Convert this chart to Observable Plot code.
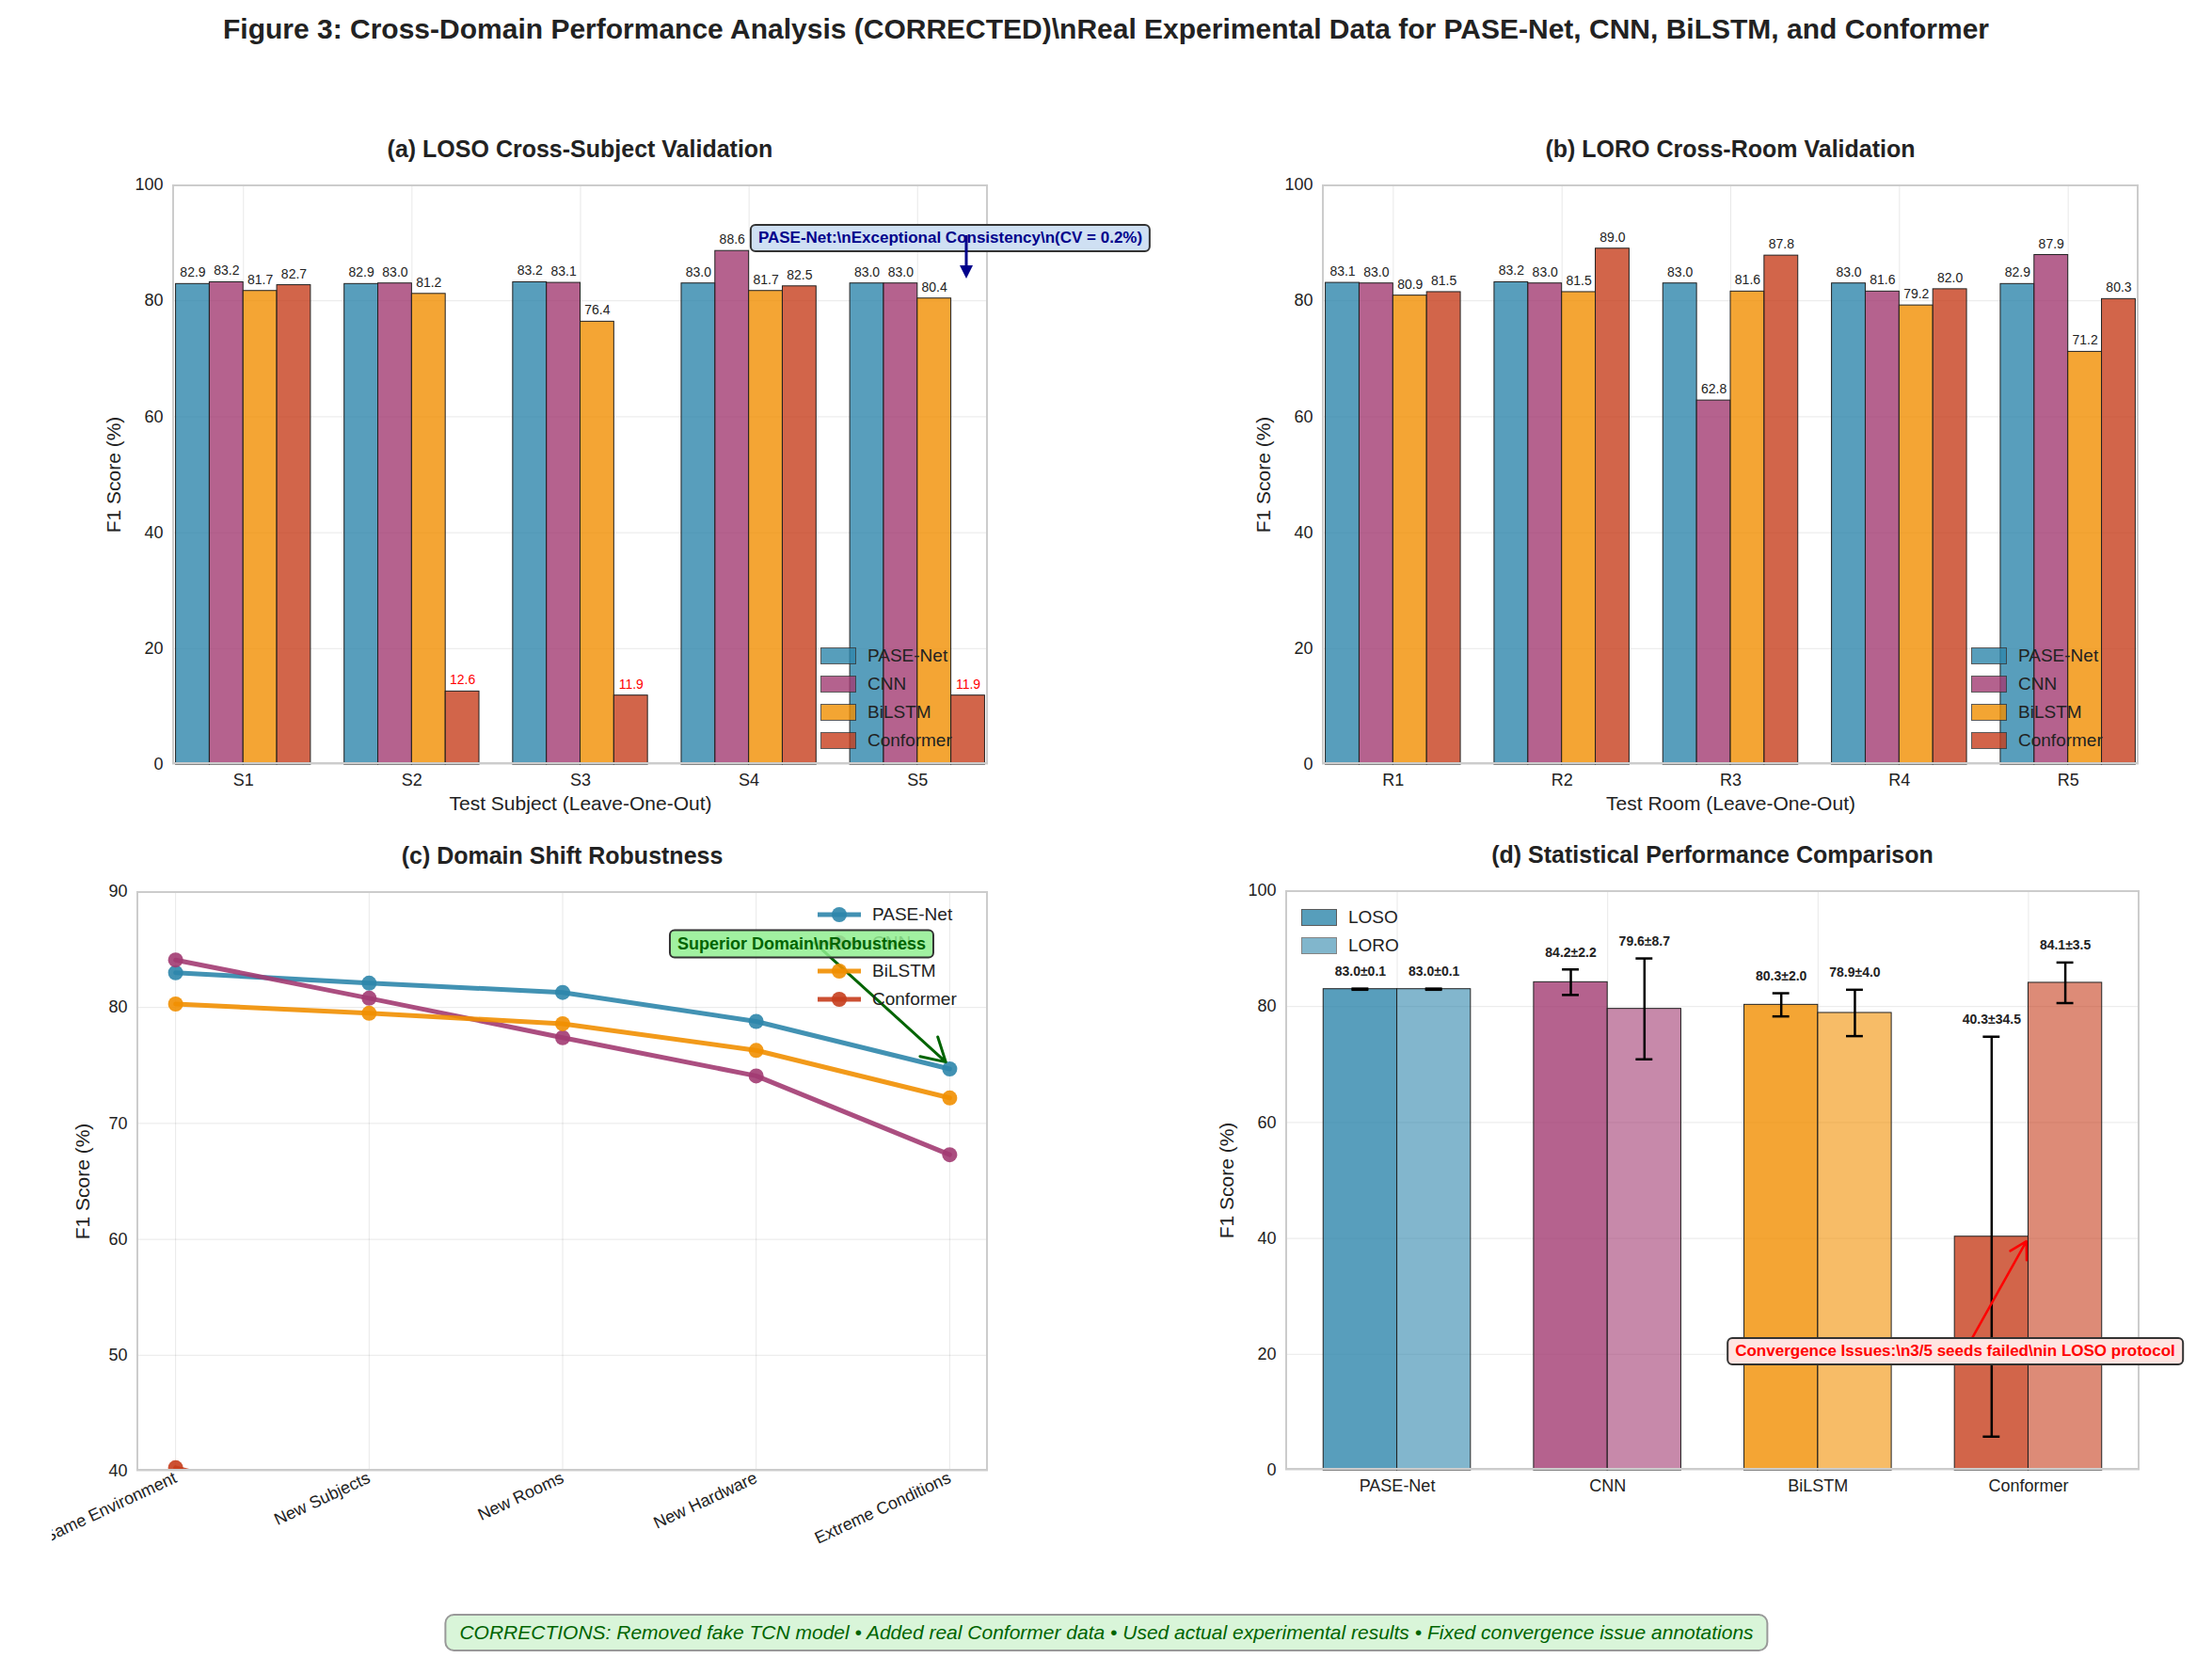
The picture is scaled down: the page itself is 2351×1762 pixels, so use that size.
<!DOCTYPE html>
<html><head><meta charset="utf-8">
<script src="https://cdn.jsdelivr.net/npm/d3@7"></script>
<script src="https://cdn.jsdelivr.net/npm/@observablehq/plot@0.6"></script>
<style>
body{margin:0;background:#fff;font-family:"Liberation Sans",Arial,sans-serif;}
#fig{position:relative;width:2351px;height:1762px;overflow:hidden;}
.abs{position:absolute;}
.title{position:absolute;font-weight:bold;font-size:25px;color:#222;text-align:center;}
.frame{position:absolute;border:2px solid #ccc;box-sizing:border-box;pointer-events:none;}
.leg{position:absolute;font-size:19px;color:#222;}
.leg div{display:flex;align-items:center;height:30px;}
.sw{width:38px;height:18px;border:1.5px solid #333;margin-right:12px;box-sizing:border-box;}
.box{position:absolute;font-weight:bold;border:2px solid #333;border-radius:6px;padding:3px 7px;white-space:nowrap;font-size:18px;transform:translate(-50%,-50%);}
g[aria-label="y-axis label"] text, g[aria-label="x-axis label"] text{font-size:21px;}
</style></head>
<body><div id="fig"></div>
<script>
const models = ["PASE-Net", "CNN", "BiLSTM", "Conformer"];
const colors = ["#2E86AB", "#A23B72", "#F18F01", "#C73E1D"];

const subjects = ["S1", "S2", "S3", "S4", "S5"];
const losoVals = [
  [82.9, 83.2, 81.7, 82.7],
  [82.9, 83.0, 81.2, 12.6],
  [83.2, 83.1, 76.4, 11.9],
  [83.0, 88.6, 81.7, 82.5],
  [83.0, 83.0, 80.4, 11.9]
];
const rooms = ["R1", "R2", "R3", "R4", "R5"];
const loroVals = [
  [83.1, 83.0, 80.9, 81.5],
  [83.2, 83.0, 81.5, 89.0],
  [83.0, 62.8, 81.6, 87.8],
  [83.0, 81.6, 79.2, 82.0],
  [82.9, 87.9, 71.2, 80.3]
];
const shifts = ["Same Environment", "New Subjects", "New Rooms", "New Hardware", "Extreme Conditions"];
const shiftVals = {
  "PASE-Net": [83.0, 82.1, 81.3, 78.8, 74.7],
  "CNN": [84.1, 80.8, 77.4, 74.1, 67.3],
  "BiLSTM": [80.3, 79.5, 78.6, 76.3, 72.2],
  "Conformer": [40.3, 36.0, 33.0, 30.0, 27.0]
};
const protocols = ["LOSO", "LORO"];
const statMean = [[83.0, 83.0], [84.2, 79.6], [80.3, 78.9], [40.3, 84.1]];
const statStd = [[0.1, 0.1], [2.2, 8.7], [2.0, 4.0], [34.5, 3.5]];

const fig = document.getElementById("fig");
function add(html, cls, style) {
  const d = document.createElement("div");
  if (cls) d.className = cls;
  d.innerHTML = html;
  Object.assign(d.style, style);
  fig.appendChild(d);
  return d;
}

function place(chart, p, mL, mT) {
  chart.style.position = "absolute";
  chart.style.left = (p.l - mL) + "px";
  chart.style.top = (p.t - mT) + "px";
  fig.appendChild(chart);
  add("", "frame", {left: p.l + "px", top: p.t + "px", width: (p.r - p.l) + "px", height: (p.b - p.t) + "px"});
  add(p.title, "title", {left: p.l + "px", width: (p.r - p.l) + "px", top: (p.t - 52) + "px"});
}

const common = {style: {fontSize: "18px", fontFamily: "Liberation Sans, Arial, sans-serif", color: "#222"}};

function groupedChart(cats, vals, p, xlabel) {
  const rows = [];
  cats.forEach((c, i) => models.forEach((m, j) => rows.push({c, i, j, m, v: vals[i][j]})));
  const mL = 110, mT = 20, mB = 80;
  return [Plot.plot({
    ...common,
    width: mL + (p.r - p.l) + 20, height: mT + (p.b - p.t) + mB,
    marginLeft: mL, marginTop: mT, marginBottom: mB, marginRight: 20,
    x: {domain: [-0.42, cats.length - 0.58], ticks: d3.range(cats.length), tickFormat: i => cats[i], tickSize: 0, tickPadding: 10, label: xlabel, labelAnchor: "center", labelArrow: "none", labelOffset: 48, grid: true},
    y: {domain: [0, 100], ticks: d3.range(0, 101, 20), tickSize: 0, tickPadding: 10, label: "F1 Score (%)", labelAnchor: "center", labelArrow: "none", labelOffset: 70, grid: true},
    color: {domain: models, range: colors},
    marks: [
      Plot.rectY(rows, {x1: d => d.i + (d.j - 2) * 0.2, x2: d => d.i + (d.j - 1) * 0.2, y: "v", fill: "m", fillOpacity: 0.8, stroke: "#222", strokeWidth: 1}),
      Plot.text(rows, {x: d => d.i + (d.j - 1.5) * 0.2, y: "v", text: d => d.v.toFixed(1), dy: -12, fontSize: 14, fontWeight: d => d.v < 20 ? "bold" : "normal", fill: d => d.v < 20 ? "red" : "#222"})
    ]
  }), mL, mT];
}

function barLegend(x, y, names, cols, ops) {
  add(names.map((n, k) => `<div><span class="sw" style="background:${cols[k]};opacity:${ops[k]}"></span>${n}</div>`).join(""), "leg", {left: x + "px", top: y + "px"});
}

// (a)
const pa = {l: 183, r: 1050, t: 196, b: 812, title: "(a) LOSO Cross-Subject Validation"};
let [ca, mla, mta] = groupedChart(subjects, losoVals, pa, "Test Subject (Leave-One-Out)");
place(ca, pa, mla, mta);
barLegend(872, 682, models, colors, [0.8, 0.8, 0.8, 0.8]);
add("PASE-Net:\\nExceptional Consistency\\n(CV = 0.2%)", "box", {left: "1010px", top: "253px", background: "#cfe0f3", color: "#00008b", fontSize: "17px"});
add(`<svg width="30" height="50"><line x1="15" y1="0" x2="15" y2="38" stroke="#00008b" stroke-width="3"/><path d="M8,32 L15,46 L22,32 Z" fill="#00008b"/></svg>`, "abs", {left: "1012px", top: "250px"});

// (b)
const pb = {l: 1405, r: 2273, t: 196, b: 812, title: "(b) LORO Cross-Room Validation"};
let [cb, mlb, mtb] = groupedChart(rooms, loroVals, pb, "Test Room (Leave-One-Out)");
place(cb, pb, mlb, mtb);
barLegend(2095, 682, models, colors, [0.8, 0.8, 0.8, 0.8]);

// (c)
const pc = {l: 145, r: 1050, t: 947, b: 1563, title: "(c) Domain Shift Robustness"};
const lineRows = [];
models.forEach(m => shifts.forEach((s, i) => lineRows.push({m, i, v: shiftVals[m][i]})));
const mLc = 90, mTc = 20, mBc = 110;
const cc = Plot.plot({
  ...common,
  width: mLc + (pc.r - pc.l) + 40, height: mTc + (pc.b - pc.t) + mBc,
  marginLeft: mLc, marginTop: mTc, marginBottom: mBc, marginRight: 40,
  x: {domain: [-0.2, 4.2], ticks: d3.range(5), tickFormat: i => shifts[i], tickSize: 0, tickPadding: 6, tickRotate: -25, label: null, grid: true},
  y: {domain: [40, 90], ticks: d3.range(40, 91, 10), tickSize: 0, tickPadding: 10, label: "F1 Score (%)", labelAnchor: "center", labelArrow: "none", labelOffset: 65, grid: true},
  color: {domain: models, range: colors},
  marks: [
    Plot.line(lineRows, {x: "i", y: "v", z: "m", stroke: "m", strokeWidth: 5, strokeOpacity: 0.9, clip: true}),
    Plot.dot(lineRows, {x: "i", y: "v", fill: "m", r: 8, fillOpacity: 0.9, clip: true}),
    Plot.arrow([{x1: 3.3, y1: 85.6, x2: 3.98, y2: 75.3}], {x1: "x1", y1: "y1", x2: "x2", y2: "y2", stroke: "darkgreen", strokeWidth: 3, headLength: 14})
  ]
});
place(cc, pc, mLc, mTc);
add(models.map((n, k) => `<div><svg width="50" height="24" style="margin-right:10px"><line x1="2" y1="12" x2="48" y2="12" stroke="${colors[k]}" stroke-width="5" opacity="0.9"/><circle cx="25" cy="12" r="8" fill="${colors[k]}" opacity="0.9"/></svg>${n}</div>`).join(""), "leg", {left: "867px", top: "957px"});
add("Superior Domain\\nRobustness", "box", {left: "852px", top: "1003px", background: "rgba(144,238,144,0.85)", color: "darkgreen", fontSize: "18px"});

// (d)
const pd = {l: 1366, r: 2274, t: 946, b: 1562, title: "(d) Statistical Performance Comparison"};
const statRows = [];
models.forEach((m, i) => protocols.forEach((p, j) => statRows.push({m, i, j, p, v: statMean[i][j], s: statStd[i][j], cx: i + (j - 0.5) * 0.35})));
const losoRows = statRows.filter(d => d.j === 0), loroRows = statRows.filter(d => d.j === 1);
const mLd = 110, mTd = 20, mBd = 60;
const barOpts = {x1: d => d.cx - 0.175, x2: d => d.cx + 0.175, y: "v", fill: "m", stroke: "#222", strokeWidth: 1};
const cd = Plot.plot({
  ...common,
  width: mLd + (pd.r - pd.l) + 20, height: mTd + (pd.b - pd.t) + mBd,
  marginLeft: mLd, marginTop: mTd, marginBottom: mBd, marginRight: 20,
  x: {domain: [-0.53, 3.53], ticks: d3.range(4), tickFormat: i => models[i], tickSize: 0, tickPadding: 10, label: null, grid: true},
  y: {domain: [0, 100], ticks: d3.range(0, 101, 20), tickSize: 0, tickPadding: 10, label: "F1 Score (%)", labelAnchor: "center", labelArrow: "none", labelOffset: 70, grid: true},
  color: {domain: models, range: colors},
  marks: [
    Plot.rectY(losoRows, {...barOpts, fillOpacity: 0.8}),
    Plot.rectY(loroRows, {...barOpts, fillOpacity: 0.6}),
    Plot.ruleX(statRows, {x: "cx", y1: d => d.v - d.s, y2: d => d.v + d.s, stroke: "black", strokeWidth: 2.5}),
    Plot.ruleY(statRows, {x1: d => d.cx - 0.04, x2: d => d.cx + 0.04, y: d => d.v - d.s, stroke: "black", strokeWidth: 2.5}),
    Plot.ruleY(statRows, {x1: d => d.cx - 0.04, x2: d => d.cx + 0.04, y: d => d.v + d.s, stroke: "black", strokeWidth: 2.5}),
    Plot.text(statRows, {x: "cx", y: d => d.v + d.s, text: d => `${d.v.toFixed(1)}±${d.s.toFixed(1)}`, dy: -18, fontSize: 14, fontWeight: "bold", fill: "#222"}),
    Plot.arrow([{x1: 2.72, y1: 22, x2: 2.99, y2: 39.5}], {x1: "x1", y1: "y1", x2: "x2", y2: "y2", stroke: "red", strokeWidth: 2.5, headLength: 12})
  ]
});
place(cd, pd, mLd, mTd);
barLegend(1383, 960, protocols, [colors[0], colors[0]], [0.8, 0.6]);
add("Convergence Issues:\\n3/5 seeds failed\\nin LOSO protocol", "box", {left: "2078px", top: "1436px", background: "#ffe4e1", color: "red", fontSize: "17px"});

// main title & caption
add("Figure 3: Cross-Domain Performance Analysis (CORRECTED)\\nReal Experimental Data for PASE-Net, CNN, BiLSTM, and Conformer", "abs", {left: "0", width: "2351px", top: "14px", textAlign: "center", fontWeight: "bold", fontSize: "30px", color: "#222"});
add("CORRECTIONS: Removed fake TCN model • Added real Conformer data • Used actual experimental results • Fixed convergence issue annotations", "box", {left: "1176px", top: "1735px", background: "#d9f5d9", color: "darkgreen", fontWeight: "normal", fontStyle: "italic", fontSize: "21px", border: "2px solid #999", borderRadius: "10px", padding: "6px 14px"});
</script></body></html>
